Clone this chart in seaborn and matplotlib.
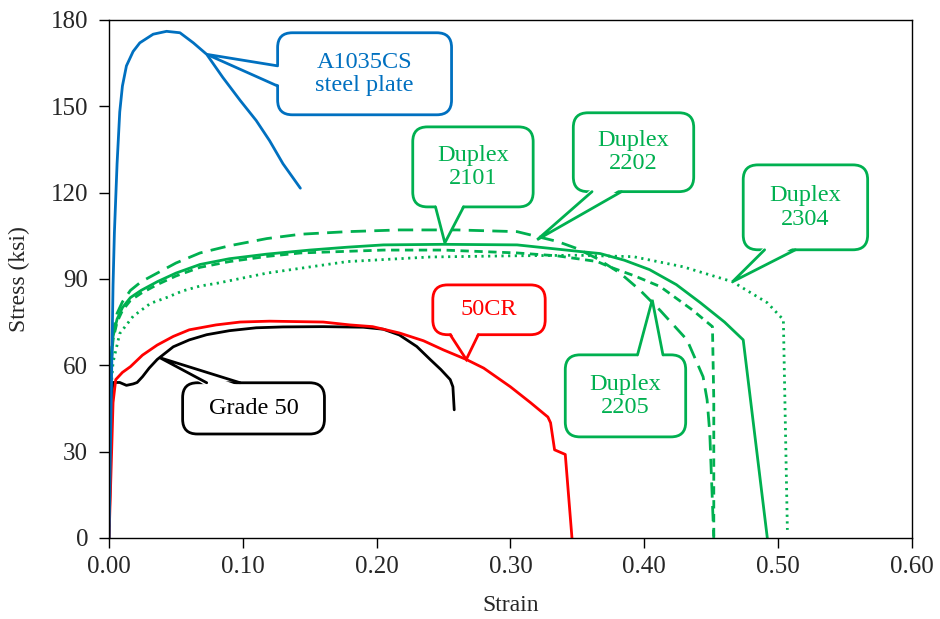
import numpy as np
import pandas as pd
import matplotlib
matplotlib.use("Agg")
import matplotlib.pyplot as plt
import seaborn as sns
from matplotlib.patches import FancyBboxPatch, Polygon

# stress-strain curves (strain, stress in ksi)
a1035_strain = [0, 0.0015, 0.003, 0.004, 0.006, 0.008, 0.010, 0.013, 0.018, 0.023, 0.033,
                0.043, 0.053, 0.063, 0.073, 0.085, 0.098, 0.110, 0.120, 0.130, 0.143]
a1035_stress = [0, 45, 88, 106, 130, 148, 157, 164, 169, 172, 175,
                176, 175.5, 172, 168, 160, 152, 145, 138, 130, 121.5]

gr50_strain = [0, 0.002, 0.003, 0.008, 0.013, 0.018, 0.021, 0.025, 0.030, 0.036, 0.048, 0.060, 0.073,
               0.090, 0.110, 0.130, 0.160, 0.190, 0.205, 0.217, 0.230, 0.240, 0.248, 0.255, 0.257, 0.258]
gr50_stress = [0, 50, 54, 54, 53, 53.5, 54, 56, 59, 62, 66.4, 68.8, 70.6,
               72, 73, 73.3, 73.4, 73.2, 72.5, 70.5, 66.5, 62, 58.5, 55, 52.5, 44.5]

cr50_strain = [0, 0.002, 0.003, 0.005, 0.010, 0.016, 0.025, 0.036, 0.048, 0.060, 0.080, 0.098, 0.120, 0.160,
               0.180, 0.197, 0.217, 0.235, 0.250, 0.267, 0.280, 0.300, 0.315, 0.328, 0.330, 0.333, 0.341, 0.346]
cr50_stress = [0, 31, 47, 55, 57.5, 59.5, 63.5, 67, 70, 72.3, 74, 75, 75.3, 75,
               74, 73.4, 71.2, 68.5, 65.3, 62, 59, 52.5, 47, 42, 40, 30.6, 29, 0]

d2101_strain = [0, 0.0005, 0.0015, 0.003, 0.006, 0.010, 0.016, 0.024, 0.036, 0.050, 0.068, 0.090, 0.118, 0.150,
                0.178, 0.205, 0.250, 0.305, 0.354, 0.367, 0.385, 0.404, 0.424, 0.442, 0.460, 0.474, 0.492]
d2101_stress = [4, 41, 60, 70, 76, 80, 83.5, 86, 89, 92, 95, 97, 98.6, 100,
                101, 101.8, 102, 101.8, 99.4, 98.8, 96.5, 93.2, 88, 81.7, 75, 68.8, 0]

d2202_strain = [0, 0.0005, 0.0015, 0.003, 0.006, 0.010, 0.016, 0.024, 0.036, 0.050, 0.068, 0.090, 0.118,
                0.143, 0.205, 0.250, 0.305, 0.335, 0.365, 0.374, 0.393, 0.412, 0.436, 0.451, 0.452, 0.452]
d2202_stress = [4, 41, 59, 69, 75, 79, 82.5, 85, 88, 91, 94, 96, 97.8,
                99, 100, 100, 99, 98, 96, 94.2, 91, 87.3, 79.2, 73.4, 48, 0]

d2205_strain = [0, 0.0005, 0.0015, 0.003, 0.006, 0.010, 0.016, 0.024, 0.036, 0.050, 0.068, 0.090, 0.118, 0.143, 0.178,
                0.217, 0.260, 0.305, 0.335, 0.350, 0.365, 0.382, 0.397, 0.412, 0.432, 0.444, 0.447, 0.449, 0.452]
d2205_stress = [4, 41, 62, 72, 78, 82, 86, 89, 92, 95.5, 99, 101.5, 104, 105.5, 106.4,
                107, 107, 106.4, 103, 100.5, 97, 92, 86, 79, 68.8, 56, 48, 36.5, 0]

d2304_strain = [0, 0.0005, 0.0015, 0.003, 0.008, 0.018, 0.031, 0.043, 0.055, 0.068, 0.081,
                0.118, 0.178, 0.240, 0.300, 0.350, 0.392, 0.429, 0.466, 0.492, 0.504, 0.507]
d2304_stress = [4, 35, 52, 61, 71, 77, 81.5, 83.5, 85.8, 87.5, 88.5,
                92, 96, 97.6, 98, 98.2, 97.7, 94.2, 89, 81.7, 75.8, 2.8]

BLUE = "#0070C0"
GREEN = "#00B050"
RED = "#FF0000"
BLACK = "#000000"

sns.set_style("ticks")
plt.rcParams["font.family"] = ["Liberation Serif", "DejaVu Serif"]

fig = plt.figure(figsize=(9.4, 6.19), dpi=100)
ax = fig.add_axes([0.116, 0.131, 0.854, 0.837])

curves = [
    (d2304_strain, d2304_stress, GREEN, (0, (0.8, 1.6))),
    (d2202_strain, d2202_stress, GREEN, (0, (3, 2))),
    (d2205_strain, d2205_stress, GREEN, (0, (5.5, 3))),
    (d2101_strain, d2101_stress, GREEN, "-"),
    (gr50_strain, gr50_stress, BLACK, "-"),
    (cr50_strain, cr50_stress, RED, "-"),
    (a1035_strain, a1035_stress, BLUE, "-"),
]
for xs, ys, col, ls in curves:
    df = pd.DataFrame({"strain": xs, "stress": ys})
    sns.lineplot(data=df, x="strain", y="stress", sort=False, estimator=None,
                 color=col, linestyle=ls, linewidth=2, ax=ax)

ax.set_xlim(0, 0.6)
ax.set_ylim(0, 180)
ax.set_xticks(np.arange(0, 0.61, 0.1))
ax.set_xticklabels([f"{v:.2f}" for v in np.arange(0, 0.61, 0.1)])
ax.set_yticks(np.arange(0, 181, 30))
ax.tick_params(labelsize=18, length=7, width=1, color="black", direction="out")
ax.tick_params(axis="x", pad=6)
ax.tick_params(axis="y", pad=8)
ax.set_xlabel("Strain", fontsize=17, labelpad=12)
ax.set_ylabel("Stress (ksi)", fontsize=17, labelpad=15)
for s in ax.spines.values():
    s.set_visible(True)
    s.set_color("black")
    s.set_linewidth(1)

# speech-bubble labels: text, colour, box (x0, x1, y0, y1), side of pointer, base (a, b), tip
callouts = [
    ("A1035CS\nsteel plate", BLUE, (0.126, 0.256, 147.0, 175.5), "left", (157, 164), (0.073, 168)),
    ("Duplex\n2101", GREEN, (0.227, 0.317, 115.0, 142.8), "bottom", (0.244, 0.265), (0.251, 102.5)),
    ("Duplex\n2202", GREEN, (0.347, 0.437, 120.3, 147.7), "bottom", (0.361, 0.383), (0.320, 103.6)),
    ("Duplex\n2304", GREEN, (0.474, 0.567, 100.1, 129.6), "bottom", (0.490, 0.513), (0.466, 89)),
    ("Duplex\n2205", GREEN, (0.341, 0.431, 35.1, 63.6), "top", (0.395, 0.414), (0.406, 82.7)),
    ("50CR", RED, (0.242, 0.326, 70.6, 87.9), "bottom", (0.255, 0.276), (0.267, 62)),
    ("Grade 50", BLACK, (0.055, 0.161, 36.1, 53.9), "top", (0.073, 0.098), (0.038, 62.6)),
]

aspect = 180 / 0.6 * (0.854 * 9.4) / (0.837 * 6.19)
for label, col, (x0, x1, y0, y1), side, (a, b), tip in callouts:
    box = FancyBboxPatch((x0, y0), x1 - x0, y1 - y0,
                         boxstyle="round,pad=0,rounding_size=0.011",
                         mutation_aspect=aspect, fc="white", ec=col, lw=2, zorder=5)
    ax.add_patch(box)
    dx, dy = 0.003, 1.2
    if side == "left":
        p1, p2 = (x0, a), (x0, b)
        q1, q2 = (x0 + dx, a), (x0 + dx, b)
    elif side == "bottom":
        p1, p2 = (a, y0), (b, y0)
        q1, q2 = (a, y0 + dy), (b, y0 + dy)
    else:
        p1, p2 = (a, y1), (b, y1)
        q1, q2 = (a, y1 - dy), (b, y1 - dy)
    ax.add_patch(Polygon([q1, tip, q2], closed=True, fc="white", ec="none", zorder=6))
    ax.plot([p1[0], tip[0], p2[0]], [p1[1], tip[1], p2[1]], color=col, lw=2,
            solid_joinstyle="miter", zorder=7)
    ax.text((x0 + x1) / 2, (y0 + y1) / 2, label, ha="center", va="center",
            color=col, fontsize=17.5, linespacing=1.15, zorder=8)

fig.savefig("out.png", dpi=100)
